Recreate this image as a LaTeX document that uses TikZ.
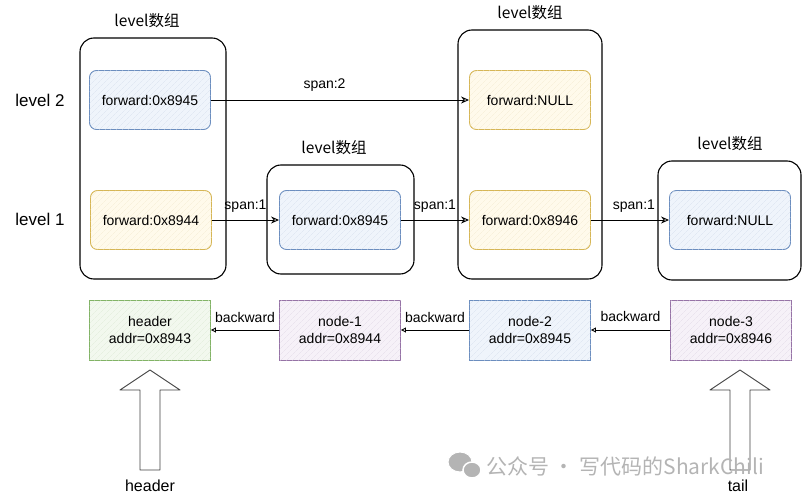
\documentclass[tikz,border=0pt]{standalone}
\usepackage{fontspec}
\setmainfont{Liberation Sans}
\newfontfamily\cjk{Noto Sans CJK SC}
\usetikzlibrary{arrows.meta,patterns.meta}
\definecolor{bluebd}{HTML}{6C8EBF}
\definecolor{bluefl}{HTML}{EFF4FB}
\definecolor{yelbd}{HTML}{D6B656}
\definecolor{yelfl}{HTML}{FFFAEB}
\definecolor{grnbd}{HTML}{82B366}
\definecolor{grnfl}{HTML}{F2F8EE}
\definecolor{purbd}{HTML}{9673A6}
\definecolor{purfl}{HTML}{F6F1F8}
\definecolor{wmark}{HTML}{B4B4B4}
\tikzset{
  outerbox/.style={draw=black, line width=1.1pt, rounded corners=14pt},
  inbox/.style={draw=#1bd, fill=#1fl, line width=0.9pt, rounded corners=7pt,
     minimum width=121pt, minimum height=59pt, font=\fontsize{14}{16}\selectfont,
     postaction={pattern={Lines[angle=45,distance=4pt,line width=0.3pt]}, pattern color=#1bd!25}},
  listbox/.style={draw=#1bd, fill=#1fl, line width=0.9pt,
     minimum width=121pt, minimum height=60pt, align=center, font=\fontsize{14}{17}\selectfont,
     postaction={pattern={Lines[angle=45,distance=4pt,line width=0.3pt]}, pattern color=#1bd!25}},
  lvtitle/.style={font=\cjk\fontsize{15.5}{17}\selectfont},
  lvlabel/.style={font=\fontsize{17}{19}\selectfont},
  small/.style={font=\fontsize{14}{16}\selectfont},
  spanarrow/.style={draw, line width=0.9pt, -{Stealth[open,length=8pt,width=7pt]}},
  backarrow/.style={draw, line width=0.9pt, -{Triangle[open,length=5pt,width=5pt]}},
  hollow/.style={draw=black!75, fill=white, line width=0.9pt, line join=round},
}
\begin{document}
\begin{tikzpicture}[x=1pt,y=-1pt]
\useasboundingbox (0,0) rectangle (802,500);
% outer level arrays
\draw[outerbox] (80,38) rectangle (226,279);
\draw[outerbox] (267,165) rectangle (414,274);
\draw[outerbox] (458,30) rectangle (602,279);
\draw[outerbox] (658,161) rectangle (801,280);
\node[lvtitle] (t1) at (147,21) {level数组};
\node[lvtitle] (t2) at (334,148) {level数组};
\node[lvtitle] (t3) at (530,13) {level数组};
\node[lvtitle] (t4) at (730,144) {level数组};
\node[lvlabel] (l2) at (40,100) {level 2};
\node[lvlabel] (l1) at (40,219) {level 1};
% forward boxes
\node[inbox=blue] (a2) at (150,100) {forward:0x8945};
\node[inbox=yel] (a1) at (151,220) {forward:0x8944};
\node[inbox=blue] (b1) at (340,220) {forward:0x8945};
\node[inbox=yel] (c2) at (530,100) {forward:NULL};
\node[inbox=yel] (c1) at (530,220) {forward:0x8946};
\node[inbox=blue] (d1) at (730,220) {forward:NULL};
% span arrows
\draw[spanarrow] (a2) -- node[small, above=5pt, pos=0.44] {span:2} (c2);
\draw[spanarrow] (a1) -- node[small, above=4pt] {span:1} (b1);
\draw[spanarrow] (b1) -- node[small, above=4pt] {span:1} (c1);
\draw[spanarrow] (c1) -- node[small, above=4pt, pos=0.55] {span:1} (d1);
% list nodes
\node[listbox=grn] (h) at (150,330) {header\\addr=0x8943};
\node[listbox=pur] (n1) at (340,330) {node-1\\addr=0x8944};
\node[listbox=blue] (n2) at (530,330) {node-2\\addr=0x8945};
\node[listbox=pur] (n3) at (731,330) {node-3\\addr=0x8946};
\draw[backarrow] (n1) -- node[small, above=4pt] {backward} (h);
\draw[backarrow] (n2) -- node[small, above=4pt] {backward} (n1);
\draw[backarrow] (n3) -- node[small, above=5pt] {backward} (n2);
% hollow pointer arrows
\draw[hollow] (150,370) -- (180,390) -- (160,390) -- (160,470) -- (140,470) -- (140,390) -- (120,390) -- cycle;
\draw[hollow] (740,370) -- (770,390) -- (750,390) -- (750,470) -- (730,470) -- (730,390) -- (710,390) -- cycle;
\node[font=\fontsize{16}{18}\selectfont] (hl) at (150,486) {header};
\node[font=\fontsize{16}{18}\selectfont] (tl) at (738,486) {tail};
% watermark
\fill[wmark, draw=white, line width=1pt] (460,462) ellipse (12pt and 10pt);
\fill[wmark, draw=white, line width=1.5pt] (472,470) ellipse (9pt and 8pt);
\node[font=\cjk\fontsize{21}{23}\selectfont, text=wmark, anchor=west, inner sep=0pt] (wm) at (486,466) {公众号 · 写代码的SharkChili};
\end{tikzpicture}
\end{document}
